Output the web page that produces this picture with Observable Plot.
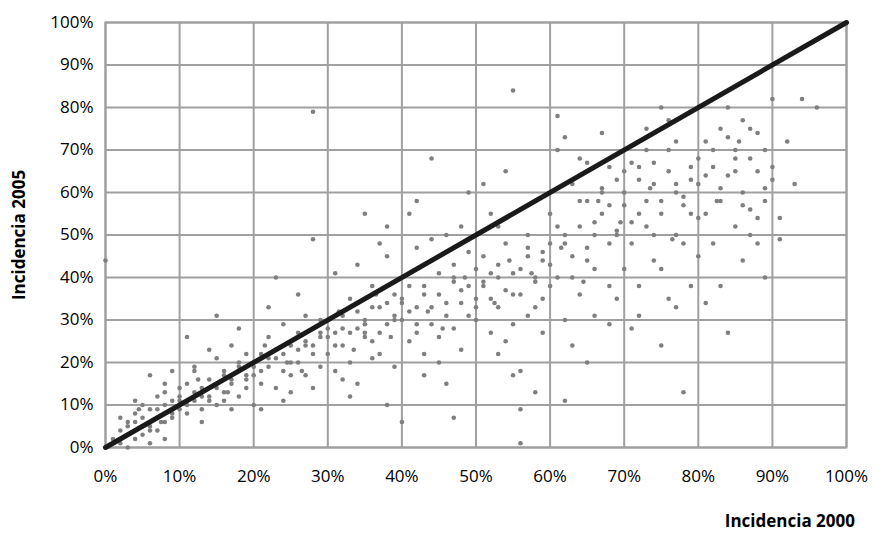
<!DOCTYPE html>
<html>
<head>
<meta charset="utf-8">
<script src="https://cdn.jsdelivr.net/npm/d3@7"></script>
<script src="https://cdn.jsdelivr.net/npm/@observablehq/plot@0.6"></script>
<style>
  body { margin: 0; background: #fff; }
  #wrap { position: relative; width: 883px; height: 533px; overflow: hidden; }
  .lab { position: absolute; font: bold 17px 'Open Sans', sans-serif; color: #000; white-space: nowrap; }
  #ylab { left: 18px; top: 235px; transform: translate(-50%, -50%) rotate(-90deg); }
  #xlab { right: 28px; top: 509px; }
</style>
</head>
<body>
<div id="wrap">
  <div id="chart"></div>
  <div class="lab" id="ylab">Incidencia 2005</div>
  <div class="lab" id="xlab">Incidencia 2000</div>
</div>
<script>
// Incidencia (%) por punto, leída a ojo del gráfico original
const x2000 = [
  1,2,2,3,3,4,4,5,5,6,6,7,7,8,8,9,9,10,10,3,5,6,8,9,2,4,7,0,6,8,
  10,11,11,12,12,13,13,14,14,15,15,16,16,17,17,18,18,19,19,11,13,15,17,19,12,14,16,18,20,20,
  20,21,21,22,22,23,23,24,24,25,25,26,26,27,27,28,28,29,29,22,24,26,28,30,21,23,25,27,29,28,
  30,31,31,32,32,33,33,34,34,35,35,36,36,37,37,38,38,39,39,31,33,35,37,39,32,34,36,38,40,40,35,38,
  40,41,41,42,42,43,43,44,44,45,45,46,46,47,47,48,48,49,49,41,43,45,47,49,42,44,46,48,50,50,44,47,42,
  50,51,51,52,52,53,53,54,54,55,55,56,56,57,57,58,58,59,59,51,53,55,57,59,52,54,56,58,60,60,55,56,53,58,
  60,61,61,62,62,63,63,64,64,65,65,66,66,67,67,68,68,69,69,61,63,65,67,69,62,64,66,68,70,70,65,62,68,
  70,71,71,72,72,73,73,74,74,75,75,76,76,77,77,78,78,79,79,71,73,75,77,79,72,74,76,78,80,80,75,77,72,
  80,81,81,82,82,83,83,84,84,85,85,86,86,87,87,88,88,89,89,90,90,91,92,93,94,96,81,83,85,87,89,91,84,86,88
];
const y2005 = [
  2,1,4,3,6,2,8,5,10,4,9,7,12,6,13,8,11,9,14,0,3,1,15,18,7,11,4,44,17,2,
  12,8,15,11,19,9,14,16,12,10,21,13,17,15,24,12,20,16,22,26,6,31,9,14,18,23,11,28,19,10,
  17,15,22,19,26,14,21,18,29,24,13,20,27,17,31,22,79,19,26,33,11,36,14,28,9,40,17,24,30,49,
  22,27,18,31,24,20,35,28,15,55,30,25,38,22,33,29,45,19,36,41,12,26,48,30,16,43,21,52,34,6,27,10,
  30,25,38,33,47,22,36,29,68,41,26,34,50,28,43,37,23,46,31,55,17,20,39,60,27,44,15,52,35,42,49,7,58,
  30,45,38,27,55,40,33,48,25,84,36,42,18,31,50,39,58,35,44,62,22,29,47,27,41,65,9,33,38,48,17,1,52,13,
  55,40,70,48,30,62,45,52,36,58,67,42,31,55,74,48,38,63,50,78,24,44,60,35,11,68,50,29,57,42,20,73,66,
  60,48,67,55,38,70,52,62,44,58,80,65,35,50,72,48,13,63,55,28,75,42,60,38,66,50,77,57,68,45,24,33,31,
  62,55,72,48,66,58,38,64,80,52,70,60,44,75,56,65,48,70,58,63,82,54,72,62,82,80,34,75,68,50,40,49,27,77,54
];
// núcleo denso de la nube
const x2000b = [
  3,4,5,6,7,8,9,10,11,12,13,14,15,16,17,18,19,20,21,22,23,24,25,26,27,28,29,30,31,32,
  33,34,35,36,37,38,39,40,41,42,43,44,45,46,47,48,49,50,51,52,53,54,55,56,57,58,59,60,
  61,62,63,64,65,66,67,68,69,70,71,72,73,74,75,76,77,78,79,80,81,82,83,84,85,86,87,88,89,90,
  4.5,7.5,12.5,16.5,21.5,24.5,26.5,31.5,33.5,36.5,38.5,43.5,45.5,48.5,52.5,54.5,57.5,61.5,64.5,66.5,69.5,73.5,76.5,82.5,85.5
];
const y2005b = [
  5,6,7,5,9,10,7,11,10,13,12,11,14,18,16,19,17,20,18,21,23,22,20,23,25,24,27,26,24,28,
  27,32,29,33,27,34,31,35,32,29,38,33,36,31,40,34,38,33,39,35,43,37,41,36,45,40,46,43,
  52,50,40,58,47,53,61,57,51,65,53,63,58,67,55,70,62,59,66,54,64,70,61,73,65,57,68,74,61,66,
  9,6,16,13,24,20,18,32,23,36,26,32,28,40,34,44,41,47,39,58,53,61,49,58,72
];
const diagonal = [[0, 0], [100, 100]];
const ticks = d3.range(0, 101, 10);

const points = x2000.concat(x2000b).map((x, i) => ({x: x / 100, y: y2005.concat(y2005b)[i] / 100}));

const chart = Plot.plot({
  width: 883,
  height: 533,
  marginLeft: 105,
  marginRight: 37,
  marginTop: 22,
  marginBottom: 86,
  style: {fontFamily: "'Open Sans', sans-serif", fontSize: "17px", color: "#000"},
  x: {domain: [0, 1], ticks: ticks.map(t => t / 100), tickFormat: d3.format(".0%"), tickSize: 0, tickPadding: 22, label: null},
  y: {domain: [0, 1], ticks: ticks.map(t => t / 100), tickFormat: d3.format(".0%"), tickSize: 0, tickPadding: 12, label: null},
  marks: [
    Plot.gridX(ticks.map(t => t / 100), {stroke: "#a0a0a0", strokeOpacity: 1, strokeWidth: 2}),
    Plot.gridY(ticks.map(t => t / 100), {stroke: "#a0a0a0", strokeOpacity: 1, strokeWidth: 2}),
    Plot.frame({stroke: "#a0a0a0", strokeWidth: 2}),
    Plot.dot(points, {x: "x", y: "y", r: 2.3, fill: "#7f7f7f", stroke: null}),
    Plot.line(diagonal, {x: d => d[0] / 100, y: d => d[1] / 100, stroke: "#1a1a1a", strokeWidth: 5})
  ]
});
document.getElementById("chart").append(chart);
</script>
</body>
</html>
